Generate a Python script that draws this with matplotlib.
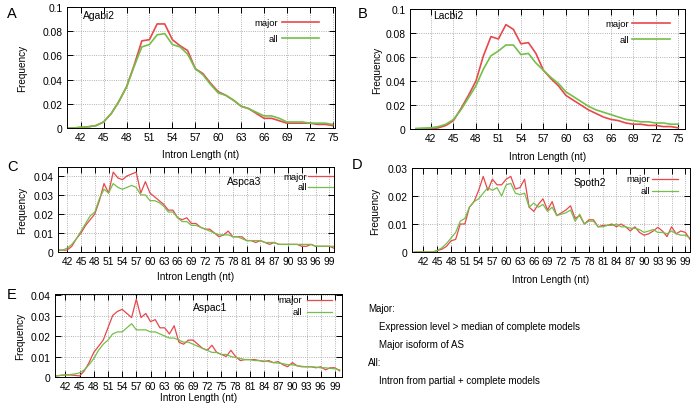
import matplotlib
matplotlib.use("Agg")
import matplotlib.pyplot as plt
from matplotlib.ticker import FuncFormatter

plt.rcParams['font.family'] = ['Liberation Sans', 'DejaVu Sans']

RED = '#e8474c'
GREEN = '#74bf4a'

# x values (intron length, nt)
len_ab = list(range(40, 76))
len_cde = list(range(40, 101))

# A: Agabi2
agabi_major = [0, 0, 0.0005, 0.001, 0.002, 0.005, 0.012, 0.022, 0.034, 0.052, 0.072, 0.073,
               0.086, 0.086, 0.073, 0.068, 0.064, 0.049, 0.045, 0.037, 0.030, 0.027, 0.023,
               0.018, 0.016, 0.012, 0.008, 0.008, 0.006, 0.004, 0.004, 0.004, 0.004, 0.003,
               0.003, 0.002]
agabi_all = [0, 0, 0.0005, 0.001, 0.002, 0.005, 0.012, 0.022, 0.034, 0.051, 0.067, 0.069,
             0.077, 0.078, 0.069, 0.067, 0.061, 0.049, 0.044, 0.036, 0.029, 0.027, 0.023,
             0.018, 0.016, 0.013, 0.010, 0.010, 0.008, 0.005, 0.005, 0.005, 0.004, 0.004,
             0.004, 0.003]

# B: Lacbi2
lacbi_major = [0, 0, 0, 0.001, 0.003, 0.007, 0.017, 0.028, 0.040, 0.061, 0.077, 0.075,
               0.087, 0.083, 0.071, 0.072, 0.063, 0.049, 0.042, 0.036, 0.028, 0.024, 0.020,
               0.016, 0.013, 0.010, 0.008, 0.007, 0.005, 0.004, 0.004, 0.003, 0.003, 0.002,
               0.002, 0.001]
lacbi_all = [0.0005, 0.0008, 0.001, 0.002, 0.004, 0.008, 0.016, 0.026, 0.036, 0.050, 0.061,
             0.065, 0.070, 0.070, 0.062, 0.063, 0.055, 0.049, 0.043, 0.038, 0.031, 0.027,
             0.023, 0.019, 0.016, 0.014, 0.012, 0.010, 0.008, 0.007, 0.006, 0.006, 0.005,
             0.005, 0.004, 0.004]

# C: Aspca3
aspca_major = [0.001, 0.001, 0.001, 0.003, 0.007, 0.010, 0.014, 0.017, 0.020, 0.027, 0.036,
               0.031, 0.042, 0.039, 0.038, 0.040, 0.041, 0.042, 0.031, 0.037, 0.031, 0.029,
               0.027, 0.025, 0.022, 0.022, 0.018, 0.017, 0.018, 0.015, 0.015, 0.013, 0.012,
               0.012, 0.010, 0.008, 0.009, 0.011, 0.008, 0.008, 0.008, 0.006, 0.006, 0.005,
               0.006, 0.005, 0.004, 0.005, 0.004, 0.004, 0.004, 0.004, 0.004, 0.003, 0.003,
               0.004, 0.003, 0.003, 0.003, 0.003, 0.002]
aspca_all = [0.001, 0.001, 0.002, 0.004, 0.007, 0.011, 0.015, 0.019, 0.021, 0.028, 0.033,
             0.031, 0.036, 0.034, 0.033, 0.034, 0.035, 0.034, 0.030, 0.030, 0.027, 0.027,
             0.026, 0.024, 0.021, 0.021, 0.018, 0.016, 0.016, 0.014, 0.014, 0.013, 0.012,
             0.011, 0.010, 0.009, 0.009, 0.009, 0.008, 0.008, 0.007, 0.006, 0.006, 0.006,
             0.006, 0.005, 0.005, 0.005, 0.004, 0.004, 0.004, 0.004, 0.004, 0.004, 0.004,
             0.004, 0.003, 0.003, 0.003, 0.003, 0.003]

# D: Spoth2
spoth_major = [0, 0, 0, 0, 0, 0.0005, 0.001, 0.002, 0.004, 0.0045, 0.010, 0.010, 0.016,
               0.018, 0.022, 0.027, 0.022, 0.026, 0.024, 0.024, 0.026, 0.027, 0.0225, 0.023,
               0.026, 0.016, 0.0145, 0.017, 0.019, 0.015, 0.018, 0.013, 0.014, 0.015, 0.0165,
               0.012, 0.013, 0.010, 0.0115, 0.0115, 0.009, 0.0095, 0.0095, 0.010, 0.009,
               0.010, 0.009, 0.0075, 0.009, 0.007, 0.006, 0.0065, 0.0075, 0.0088, 0.0075,
               0.0055, 0.009, 0.0065, 0.0075, 0.007, 0.0045]
spoth_all = [0, 0, 0, 0, 0, 0.0005, 0.0015, 0.003, 0.005, 0.007, 0.011, 0.012, 0.016, 0.018,
             0.019, 0.021, 0.023, 0.022, 0.023, 0.020, 0.024, 0.0245, 0.021, 0.0205, 0.021,
             0.016, 0.0175, 0.016, 0.017, 0.0145, 0.016, 0.013, 0.0135, 0.014, 0.015, 0.011,
             0.0135, 0.010, 0.011, 0.011, 0.009, 0.009, 0.0095, 0.0095, 0.010, 0.009, 0.009,
             0.0085, 0.0085, 0.008, 0.007, 0.0075, 0.008, 0.007, 0.007, 0.0065, 0.0075,
             0.0065, 0.006, 0.006, 0.005]

# E: Aspac1
aspac_major = [0.0005, 0.0008, 0.001, 0.001, 0.0008, 0.0005, 0.003, 0.007, 0.012, 0.015,
               0.018, 0.024, 0.030, 0.032, 0.033, 0.031, 0.029, 0.038, 0.029, 0.031, 0.027,
               0.028, 0.024, 0.024, 0.021, 0.025, 0.017, 0.016, 0.018, 0.018, 0.016, 0.014,
               0.013, 0.0155, 0.012, 0.011, 0.010, 0.013, 0.010, 0.008, 0.0085, 0.0085,
               0.0085, 0.008, 0.0075, 0.008, 0.007, 0.0075, 0.006, 0.005, 0.007, 0.0055,
               0.005, 0.005, 0.005, 0.0045, 0.005, 0.0035, 0.0045, 0.0045, 0.003]
aspac_all = [0.0005, 0.0008, 0.001, 0.0012, 0.0015, 0.002, 0.0035, 0.006, 0.009, 0.013,
             0.016, 0.018, 0.021, 0.022, 0.022, 0.024, 0.026, 0.023, 0.023, 0.023, 0.022,
             0.022, 0.021, 0.020, 0.019, 0.019, 0.018, 0.017, 0.017, 0.016, 0.015, 0.014,
             0.013, 0.012, 0.012, 0.011, 0.011, 0.010, 0.0095, 0.009, 0.0085, 0.0085, 0.008,
             0.008, 0.0078, 0.0075, 0.007, 0.0068, 0.0065, 0.006, 0.006, 0.0055, 0.0052,
             0.005, 0.005, 0.0048, 0.0045, 0.0045, 0.0042, 0.004, 0.0035]

ticks_ab = list(range(42, 76, 3))
ticks_cde = list(range(42, 100, 3))

notes = ["Major:", "    Expression level > median of complete models",
         "    Major isoform of AS", "All:", "    Intron from partial + complete models"]

W, H = 691, 414
fig = plt.figure(figsize=(W / 100, H / 100), dpi=100)


def panel(box, x, major, allv, name, letter, xlim, ylim, yticks, xticks,
          name_px, lw, ylab_x, xlab_y, letter_xy, leg_px):
    l, r, t, b = box
    ax = fig.add_axes([l / W, 1 - b / H, (r - l) / W, (b - t) / H])
    ax.plot(x, major, color=RED, lw=lw)
    ax.plot(x, allv, color=GREEN, lw=lw)
    ax.set_xlim(*xlim)
    ax.set_ylim(*ylim)
    ax.set_xticks(xticks)
    ax.set_yticks(yticks)
    ax.yaxis.set_major_formatter(FuncFormatter(lambda v, p: '%g' % v))
    ax.tick_params(direction='in', top=True, right=True, labelsize=7.4,
                   length=4.5, width=0.7, pad=3)
    ax.grid(True, color='#999999', ls=':', lw=0.6)
    for s in ax.spines.values():
        s.set_linewidth(0.7)

    def ax_xy(px, py):
        return (px - l) / (r - l), (b - py) / (b - t)

    nx, ny = ax_xy(*name_px)
    ax.text(nx, ny, name, transform=ax.transAxes, fontsize=7.4, ha='left', va='center')

    # gnuplot-style key: right aligned text, then line sample
    txt_end, x0, x1, y_major, y_all = leg_px
    for lab, col, py in (('major', RED, y_major), ('all', GREEN, y_all)):
        tx, ty = ax_xy(txt_end, py)
        ax.text(tx, ty, lab, transform=ax.transAxes, fontsize=6.8, ha='right', va='center')
        a0, _ = ax_xy(x0, py)
        a1, _ = ax_xy(x1, py)
        ax.plot([a0, a1], [ty, ty], color=col, lw=lw, transform=ax.transAxes, clip_on=False)

    fig.text(ylab_x / W, 1 - (t + b) / 2 / H, 'Frequency', rotation=90,
             fontsize=7.2, ha='center', va='center')
    fig.text((l + r) / 2 / W, 1 - xlab_y / H, 'Intron Length (nt)',
             fontsize=7.2, ha='center', va='center')
    fig.text(letter_xy[0] / W, 1 - letter_xy[1] / H, letter, fontsize=10.5,
             ha='center', va='center')
    return ax


panel((67, 335, 8, 129), len_ab, agabi_major, agabi_all, 'Agabi2', 'A',
      (40.2, 75.3), (0, 0.1), [0, 0.02, 0.04, 0.06, 0.08, 0.1], ticks_ab,
      (83, 16), 1.2, 22, 155, (12, 14), (278, 282, 319, 23, 39))
panel((410, 685, 10, 130), len_ab, lacbi_major, lacbi_all, 'Lacbi2', 'B',
      (39.2, 75.9), (0, 0.1), [0, 0.02, 0.04, 0.06, 0.08, 0.1], ticks_ab,
      (433, 16), 1.2, 377, 157, (363, 14), (629, 632, 670, 24, 40))
panel((58, 334, 168, 253), len_cde, aspca_major, aspca_all, 'Aspca3', 'C',
      (40, 100), (0, 0.0447), [0, 0.01, 0.02, 0.03, 0.04], ticks_cde,
      (227, 182), 0.9, 22, 277, (12, 167), (307, 308, 333, 177, 188))
panel((412, 690, 169, 253), len_cde, spoth_major, spoth_all, 'Spoth2', 'D',
      (39.5, 100), (0, 0.03), [0, 0.01, 0.02, 0.03], ticks_cde,
      (574, 183), 0.9, 375, 280, (357, 165), (650, 652, 678, 180, 192))
panel((55, 342, 295, 378), len_cde, aspac_major, aspac_all, 'Aspac1', 'E',
      (39.8, 100.5), (0, 0.0405), [0, 0.01, 0.02, 0.03, 0.04], ticks_cde,
      (193, 308), 0.9, 20, 398, (12, 295), (302, 307, 332, 301, 313))

for i, line in enumerate(notes):
    fig.text(368 / W, 1 - (309 + 18 * i) / H, line, fontsize=7.0, ha='left', va='center')

fig.savefig('out.png', dpi=100)
